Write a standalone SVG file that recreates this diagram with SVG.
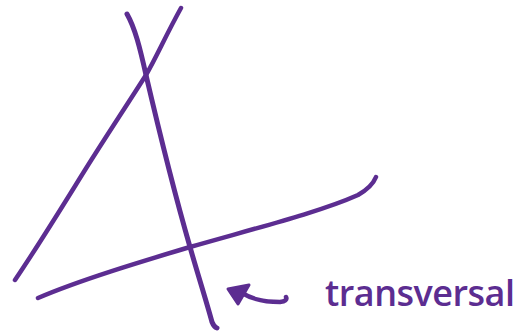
<svg xmlns="http://www.w3.org/2000/svg" width="530" height="333" viewBox="0 0 530 333">
<style>
.ln{fill:none;stroke:#5c2d91;stroke-linecap:round;stroke-linejoin:round}
.lbl{font-family:"Open Sans","DejaVu Sans",sans-serif;font-size:36px;font-weight:600;fill:#5c2d91}
</style>
<rect width="530" height="333" fill="#fff"/>
<g id="lines">
<path class="ln" stroke-width="4.5" d="M181,8 C166,35 156,58 146,75 C125,108 105,138 85,170 C62,207 40,243 15,280"/>
<path class="ln" stroke-width="5" d="M127,14 C135,28 140,48 146,75 C160,135 175,195 190,247 C198,275 206,300 212,322 Q214,327 217,328"/>
<path class="ln" stroke-width="4.5" d="M38,298 C80,280 140,262 190,247 C260,227 320,212 358,195 Q372,187 376,177"/>
</g>
<g id="arrow">
<path class="ln" stroke-width="4.5" d="M242,293 C252,299 262,302 280,302 Q288,301 286,297"/>
<polygon points="228,289 249,285 238,304" fill="#5c2d91" stroke="#5c2d91" stroke-width="3" stroke-linejoin="round"/>
</g>
<g id="label">
<text class="lbl" x="325" y="306" textLength="190" lengthAdjust="spacing">transversal</text>
</g>
</svg>
